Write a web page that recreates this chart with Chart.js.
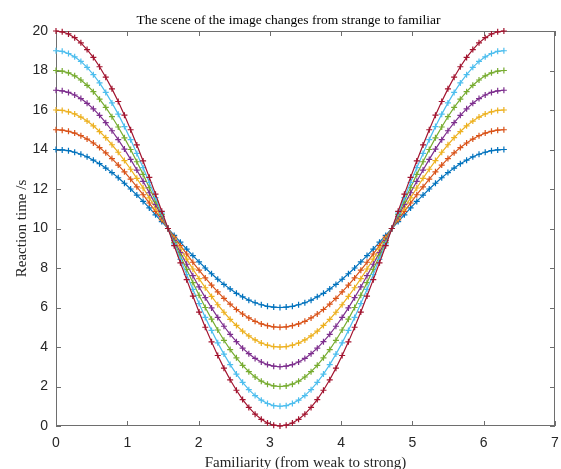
<!DOCTYPE html>
<html>
<head>
<meta charset="utf-8">
<title>Reaction time vs familiarity</title>
<script src="https://cdn.jsdelivr.net/npm/chart.js@4.4.1/dist/chart.umd.min.js"></script>
<style>
  html, body { margin: 0; padding: 0; background: #fff; }
  canvas { display: block; }
</style>
</head>
<body>
<canvas id="chart" width="561" height="469"></canvas>
<script>
// familiarity values (x), 5 degree steps from 0 to 2*pi
const familiarity = [0, 0.087, 0.175, 0.262, 0.349, 0.436, 0.524, 0.611, 0.698, 0.785, 0.873, 0.960, 1.047, 1.134, 1.222, 1.309, 1.396, 1.484, 1.571, 1.658, 1.745, 1.833, 1.920, 2.007, 2.094, 2.182, 2.269, 2.356, 2.443, 2.531, 2.618, 2.705, 2.793, 2.880, 2.967, 3.054, 3.142, 3.229, 3.316, 3.403, 3.491, 3.578, 3.665, 3.752, 3.840, 3.927, 4.014, 4.102, 4.189, 4.276, 4.363, 4.451, 4.538, 4.625, 4.712, 4.800, 4.887, 4.974, 5.061, 5.149, 5.236, 5.323, 5.411, 5.498, 5.585, 5.672, 5.760, 5.847, 5.934, 6.021, 6.109, 6.196, 6.283];

// reaction time series (s), named by their start value
const rt14 = [14, 13.98, 13.94, 13.86, 13.76, 13.63, 13.46, 13.28, 13.06, 12.83, 12.57, 12.29, 12, 11.69, 11.37, 11.04, 10.69, 10.35, 10, 9.65, 9.31, 8.96, 8.63, 8.31, 8, 7.71, 7.43, 7.17, 6.94, 6.72, 6.54, 6.37, 6.24, 6.14, 6.06, 6.02, 6, 6.02, 6.06, 6.14, 6.24, 6.37, 6.54, 6.72, 6.94, 7.17, 7.43, 7.71, 8, 8.31, 8.63, 8.96, 9.31, 9.65, 10, 10.35, 10.69, 11.04, 11.37, 11.69, 12, 12.29, 12.57, 12.83, 13.06, 13.28, 13.46, 13.63, 13.76, 13.86, 13.94, 13.98, 14];
const rt15 = [15, 14.98, 14.92, 14.83, 14.70, 14.53, 14.33, 14.10, 13.83, 13.54, 13.21, 12.87, 12.5, 12.11, 11.71, 11.29, 10.87, 10.44, 10, 9.56, 9.13, 8.71, 8.29, 7.89, 7.5, 7.13, 6.79, 6.46, 6.17, 5.90, 5.67, 5.47, 5.30, 5.17, 5.08, 5.02, 5, 5.02, 5.08, 5.17, 5.30, 5.47, 5.67, 5.90, 6.17, 6.46, 6.79, 7.13, 7.5, 7.89, 8.29, 8.71, 9.13, 9.56, 10, 10.44, 10.87, 11.29, 11.71, 12.11, 12.5, 12.87, 13.21, 13.54, 13.83, 14.10, 14.33, 14.53, 14.70, 14.83, 14.92, 14.98, 15];
const rt16 = [16, 15.98, 15.91, 15.80, 15.64, 15.44, 15.20, 14.91, 14.60, 14.24, 13.86, 13.44, 13, 12.54, 12.05, 11.55, 11.04, 10.52, 10, 9.48, 8.96, 8.45, 7.95, 7.46, 7, 6.56, 6.14, 5.76, 5.40, 5.09, 4.80, 4.56, 4.36, 4.20, 4.09, 4.02, 4, 4.02, 4.09, 4.20, 4.36, 4.56, 4.80, 5.09, 5.40, 5.76, 6.14, 6.56, 7, 7.46, 7.95, 8.45, 8.96, 9.48, 10, 10.52, 11.04, 11.55, 12.05, 12.54, 13, 13.44, 13.86, 14.24, 14.60, 14.91, 15.20, 15.44, 15.64, 15.80, 15.91, 15.98, 16];
const rt17 = [17, 16.97, 16.89, 16.76, 16.58, 16.34, 16.06, 15.73, 15.36, 14.95, 14.50, 14.02, 13.5, 12.96, 12.39, 11.81, 11.22, 10.61, 10, 9.39, 8.78, 8.19, 7.61, 7.04, 6.5, 5.98, 5.50, 5.05, 4.64, 4.27, 3.94, 3.66, 3.42, 3.24, 3.11, 3.03, 3, 3.03, 3.11, 3.24, 3.42, 3.66, 3.94, 4.27, 4.64, 5.05, 5.50, 5.98, 6.5, 7.04, 7.61, 8.19, 8.78, 9.39, 10, 10.61, 11.22, 11.81, 12.39, 12.96, 13.5, 14.02, 14.50, 14.95, 15.36, 15.73, 16.06, 16.34, 16.58, 16.76, 16.89, 16.97, 17];
const rt18 = [18, 17.97, 17.88, 17.73, 17.52, 17.25, 16.93, 16.55, 16.13, 15.66, 15.14, 14.59, 14, 13.38, 12.74, 12.07, 11.39, 10.70, 10, 9.30, 8.61, 7.93, 7.26, 6.62, 6, 5.41, 4.86, 4.34, 3.87, 3.45, 3.07, 2.75, 2.48, 2.27, 2.12, 2.03, 2, 2.03, 2.12, 2.27, 2.48, 2.75, 3.07, 3.45, 3.87, 4.34, 4.86, 5.41, 6, 6.62, 7.26, 7.93, 8.61, 9.30, 10, 10.70, 11.39, 12.07, 12.74, 13.38, 14, 14.59, 15.14, 15.66, 16.13, 16.55, 16.93, 17.25, 17.52, 17.73, 17.88, 17.97, 18];
const rt19 = [19, 18.97, 18.86, 18.69, 18.46, 18.16, 17.79, 17.37, 16.89, 16.36, 15.79, 15.16, 14.5, 13.80, 13.08, 12.33, 11.56, 10.78, 10, 9.22, 8.44, 7.67, 6.92, 6.20, 5.5, 4.84, 4.21, 3.64, 3.11, 2.63, 2.21, 1.84, 1.54, 1.31, 1.14, 1.03, 1, 1.03, 1.14, 1.31, 1.54, 1.84, 2.21, 2.63, 3.11, 3.64, 4.21, 4.84, 5.5, 6.20, 6.92, 7.67, 8.44, 9.22, 10, 10.78, 11.56, 12.33, 13.08, 13.80, 14.5, 15.16, 15.79, 16.36, 16.89, 17.37, 17.79, 18.16, 18.46, 18.69, 18.86, 18.97, 19];
const rt20 = [20, 19.96, 19.85, 19.66, 19.40, 19.06, 18.66, 18.19, 17.66, 17.07, 16.43, 15.74, 15, 14.23, 13.42, 12.59, 11.74, 10.87, 10, 9.13, 8.26, 7.41, 6.58, 5.77, 5, 4.26, 3.57, 2.93, 2.34, 1.81, 1.34, 0.94, 0.60, 0.34, 0.15, 0.04, 0, 0.04, 0.15, 0.34, 0.60, 0.94, 1.34, 1.81, 2.34, 2.93, 3.57, 4.26, 5, 5.77, 6.58, 7.41, 8.26, 9.13, 10, 10.87, 11.74, 12.59, 13.42, 14.23, 15, 15.74, 16.43, 17.07, 17.66, 18.19, 18.66, 19.06, 19.40, 19.66, 19.85, 19.96, 20];

const allSeries = [rt14, rt15, rt16, rt17, rt18, rt19, rt20];
const lineColors = ['#0072BD', '#D95319', '#EDB120', '#7E2F8E', '#77AC30', '#4DBEEE', '#A2142F'];

const xTickMax = 7;
const yTickMax = 20;

// box round the plot with ticks pointing inwards (matlab look)
const axisBox = {
  id: 'axisBox',
  beforeDatasetsDraw(chart) {
    const { ctx, chartArea: a, scales: { x, y } } = chart;
    const len = 5;
    ctx.save();
    ctx.strokeStyle = '#6e6e6e';
    ctx.lineWidth = 1;
    ctx.strokeRect(a.left + 0.5, a.top + 0.5, a.right - a.left - 1, a.bottom - a.top - 1);
    ctx.beginPath();
    x.ticks.forEach(t => {
      const px = Math.round(x.getPixelForValue(t.value)) + 0.5;
      ctx.moveTo(px, a.bottom); ctx.lineTo(px, a.bottom - len);
      ctx.moveTo(px, a.top); ctx.lineTo(px, a.top + len);
    });
    y.ticks.forEach(t => {
      const py = Math.round(y.getPixelForValue(t.value)) + 0.5;
      ctx.moveTo(a.left, py); ctx.lineTo(a.left + len, py);
      ctx.moveTo(a.right, py); ctx.lineTo(a.right - len, py);
    });
    ctx.stroke();
    ctx.restore();
  }
};

const datasets = allSeries.map((vals, i) => ({
  label: 'rt' + vals[0],
  data: familiarity.map((x, j) => ({ x: x, y: vals[j] })),
  borderColor: lineColors[i],
  backgroundColor: lineColors[i],
  borderWidth: 1.2,
  pointStyle: 'cross',
  pointRadius: 3,
  pointBorderWidth: 1.2,
  pointBorderColor: lineColors[i],
  tension: 0,
  fill: false,
  clip: false,
  order: allSeries.length - 1 - i
}));

const ctx = document.getElementById('chart').getContext('2d');
new Chart(ctx, {
  type: 'line',
  data: { datasets: datasets },
  plugins: [axisBox],
  options: {
    responsive: false,
    animation: false,
    layout: { padding: { left: 22, right: 6, top: 0, bottom: 0 } },
    plugins: {
      legend: { display: false },
      tooltip: { enabled: false },
      title: {
        display: true,
        text: 'The scene of the image changes from strange to familiar',
        color: '#000',
        font: { family: 'Liberation Serif', size: 13.5, weight: 'normal', lineHeight: 1.2 },
        padding: { top: 12, bottom: 2.8 }
      }
    },
    scales: {
      x: {
        type: 'linear',
        min: 0,
        max: xTickMax,
        afterFit: (scale) => {
          scale.height = 43;
          scale.paddingLeft = 0;
          scale.paddingRight = 0;
        },
        grid: { display: false, drawTicks: false },
        border: { display: false },
        ticks: {
          stepSize: 1,
          padding: 9,
          color: '#262626',
          font: { family: 'Liberation Sans', size: 14 }
        },
        title: {
          display: true,
          text: 'Familiarity (from weak to strong)',
          color: '#262626',
          font: { family: 'Liberation Serif', size: 15, lineHeight: 1 },
          padding: { top: 0, bottom: -1.5 }
        }
      },
      y: {
        min: 0,
        max: yTickMax,
        afterFit: (scale) => {
          scale.width = 34;
          scale.paddingTop = 0;
          scale.paddingBottom = 0;
        },
        grid: { display: false, drawTicks: false },
        border: { display: false },
        ticks: {
          stepSize: 2,
          padding: 8,
          color: '#262626',
          font: { family: 'Liberation Sans', size: 14 }
        },
        title: {
          display: true,
          text: 'Reaction time /s',
          color: '#262626',
          font: { family: 'Liberation Serif', size: 15, lineHeight: 1 },
          padding: { top: -7, bottom: 0 }
        }
      }
    }
  }
});
</script>
</body>
</html>
